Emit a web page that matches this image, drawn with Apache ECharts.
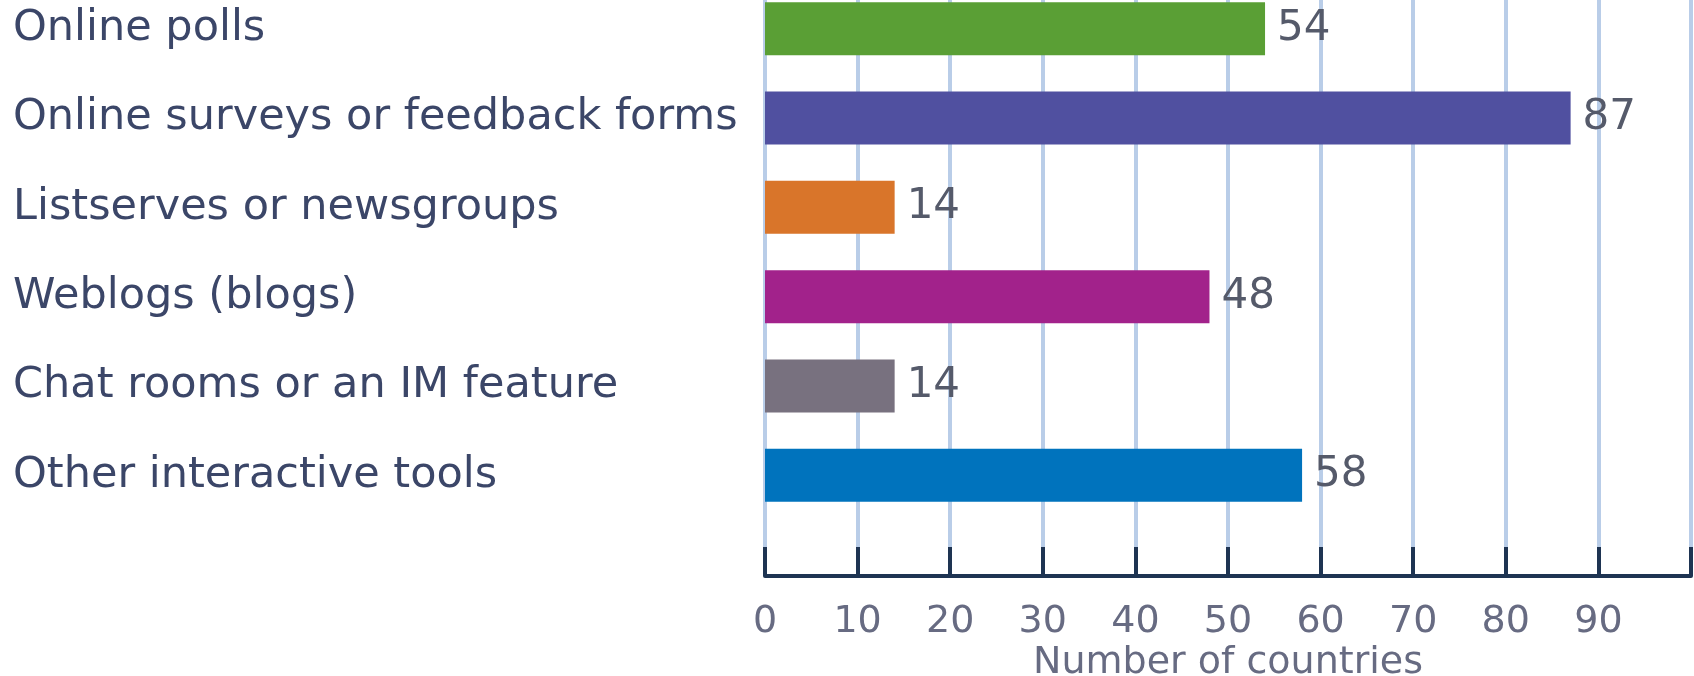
<!DOCTYPE html>
<html>
<head>
<meta charset="utf-8">
<script src="https://cdn.jsdelivr.net/npm/echarts@6/dist/echarts.min.js"></script>
<style>html,body{margin:0;padding:0;background:#fff}#c{width:1694px;height:676px}</style>
</head>
<body>
<div id="c"></div>
<script>
const categories = ["Online polls","Online surveys or feedback forms","Listserves or newsgroups","Weblogs (blogs)","Chat rooms or an IM feature","Other interactive tools"];
const values = [54, 87, 14, 48, 14, 58];
const xTicks = [0,10,20,30,40,50,60,70,80,90];
const axisTitle = "Number of countries";

const barColors = ["#5a9f35","#5050a0","#d9752a","#a2228b","#78717f","#0073bd"];
const FONT = "'DejaVu Sans',sans-serif";
const chart = echarts.init(document.getElementById('c'));
chart.setOption({
  animation:false,
  backgroundColor:'#fff',
  grid:[
    {left:765, right:3, top:-16, bottom:156, outerBoundsMode:'none', containLabel:false},
    {left:765, right:3, top:520, bottom:100, outerBoundsMode:'none', containLabel:false}
  ],
  xAxis:[
    {gridIndex:0, type:'value', min:0, max:100, interval:10,
     axisLine:{show:false}, axisTick:{show:false}, axisLabel:{show:false},
     splitLine:{show:true, lineStyle:{color:'#b9cde8', width:4}}},
    {gridIndex:1, type:'value', min:0, max:100, interval:10,
     axisLine:{show:true, lineStyle:{color:'#1e3452', width:4}},
     axisTick:{show:true, inside:true, length:29, lineStyle:{color:'#1e3452', width:4}},
     splitLine:{show:true, lineStyle:{color:'#b9cde8', width:4}},
     axisLabel:{margin:27, fontFamily:FONT, fontSize:38, color:'#676b82',
       formatter:function(v){return xTicks.indexOf(v)>=0 ? String(v) : '';}},
     name:axisTitle, nameLocation:'middle', nameGap:68,
     nameTextStyle:{fontFamily:FONT, fontSize:38, color:'#676b82'}}
  ],
  yAxis:[
    {gridIndex:0, type:'category', inverse:true, data:categories,
     axisLine:{show:false}, axisTick:{show:false}, splitLine:{show:false},
     axisLabel:{align:'left', margin:752, padding:[6,0,0,0], fontFamily:FONT, fontSize:43, color:'#3b4668'}},
    {gridIndex:1, type:'category', data:[''], show:false}
  ],
  series:[{
    type:'bar', xAxisIndex:0, yAxisIndex:0, barWidth:53,
    data: values.map((v,i)=>({value:v, itemStyle:{color:barColors[i]}})),
    label:{show:true, position:'right', distance:12, fontFamily:FONT, fontSize:42, color:'#555a6a'}
  }]
});
</script>
</body>
</html>
